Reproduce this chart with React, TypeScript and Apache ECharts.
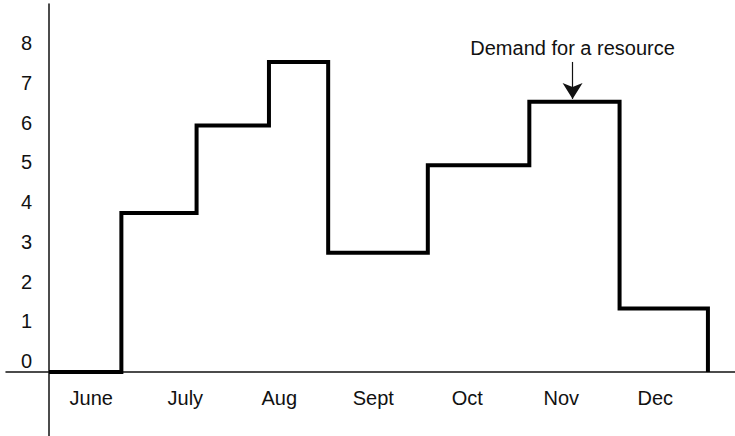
import React, { useEffect, useRef } from "react";
import * as echarts from "echarts";

// ---- data ----
const months = ["June", "July", "Aug", "Sept", "Oct", "Nov", "Dec"];
const yTickValues = [0, 1, 2, 3, 4, 5, 6, 7, 8];
// time (in months since start of June) at which the demand level changes
const changeTimes = [0, 0.77, 1.57, 2.34, 2.97, 4.03, 5.11, 6.07, 7.01];
// demand level starting at each change time
const demandLevels = [0, 4.0, 6.2, 7.8, 3.0, 5.2, 6.8, 1.6, 0];
const annotationText = "Demand for a resource";
const annotationX = 5.57;
const annotationFromY = 7.8;
const annotationToY = 6.87;

const FONT = "'Liberation Sans', Arial, Helvetica, sans-serif";
const INK = "#111";

// axis ranges
const X_MIN = 0;
const X_MAX = 7.298;
const Y_MIN = 0;
const Y_MAX = 9.258;
// frame (cross) ranges, extending beyond the origin
const FX_MIN = -0.457;
const FY_MIN = -1.61;

export default function App() {
  const ref = useRef<HTMLDivElement>(null);

  useEffect(() => {
    if (!ref.current) return;
    const chart = echarts.init(ref.current, undefined, { renderer: "svg" });
    const seriesData = changeTimes.map((t, i) => [t, demandLevels[i]]);
    const hidden = { show: false };
    chart.setOption({
      animation: false,
      backgroundColor: "#ffffff",
      grid: [
        { left: 49, right: 0, top: 4, bottom: 64, containLabel: false, outerBoundsMode: "none" },
        { left: 6, right: 0, top: 4, bottom: 0, containLabel: false, outerBoundsMode: "none" },
      ],
      xAxis: [
        {
          gridIndex: 0,
          type: "value",
          min: X_MIN,
          max: X_MAX,
          axisLine: hidden,
          axisTick: hidden,
          splitLine: hidden,
          axisLabel: {
            customValues: months.map((_, i) => i + 0.45),
            formatter: (v: number) => months[Math.floor(v)] ?? "",
            margin: 16,
            fontSize: 20,
            color: INK,
            fontFamily: FONT,
          },
        },
        {
          gridIndex: 1,
          type: "value",
          min: FX_MIN,
          max: X_MAX,
          axisLine: { onZero: true, lineStyle: { color: INK, width: 1.5 } },
          axisTick: hidden,
          splitLine: hidden,
          axisLabel: hidden,
        },
      ],
      yAxis: [
        {
          gridIndex: 0,
          type: "value",
          min: Y_MIN,
          max: Y_MAX,
          axisLine: hidden,
          axisTick: hidden,
          splitLine: hidden,
          axisLabel: {
            customValues: yTickValues,
            formatter: (v: number) => String(Math.round(v)),
            margin: 17,
            verticalAlign: "bottom",
            lineHeight: 22,
            fontSize: 20,
            color: INK,
            fontFamily: FONT,
          },
        },
        {
          gridIndex: 1,
          type: "value",
          min: FY_MIN,
          max: Y_MAX,
          axisLine: { onZero: true, lineStyle: { color: INK, width: 1.5 } },
          axisTick: hidden,
          splitLine: hidden,
          axisLabel: hidden,
        },
      ],
      series: [
        {
          type: "line",
          xAxisIndex: 0,
          yAxisIndex: 0,
          step: "end",
          data: seriesData,
          showSymbol: false,
          symbol: "none",
          clip: false,
          lineStyle: { color: "#000", width: 4, join: "miter", cap: "butt" },
          emphasis: { disabled: true },
          silent: true,
          z: 5,
          markLine: {
            silent: true,
            symbol: ["none", "arrow"],
            symbolSize: [15, 16],
            lineStyle: { color: INK, width: 1.2, type: "solid" },
            label: {
              show: true,
              position: "start",
              formatter: annotationText,
              fontSize: 20,
              color: INK,
              fontFamily: FONT,
              distance: 4,
            },
            emphasis: { disabled: true },
            data: [
              [
                { coord: [annotationX, annotationFromY] },
                { coord: [annotationX, annotationToY] },
              ],
            ],
          },
        },
      ],
    });
    return () => chart.dispose();
  }, []);

  return (
    <div
      ref={ref}
      style={{ position: "fixed", left: 0, top: 0, width: 735, height: 436, background: "#fff" }}
    />
  );
}
